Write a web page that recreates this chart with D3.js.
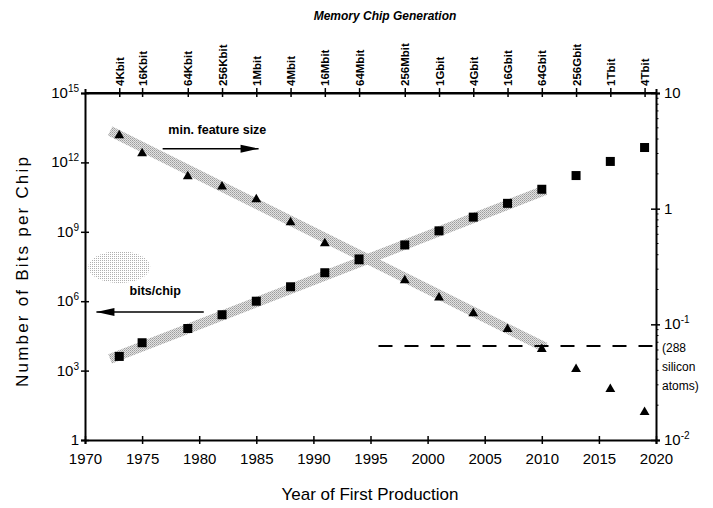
<!DOCTYPE html>
<html>
<head>
<meta charset="utf-8">
<script src="https://cdn.jsdelivr.net/npm/d3@7"></script>
<style>
  html, body { margin: 0; padding: 0; background: #fff; }
  svg { display: block; }
  text { font-family: "Liberation Sans", Arial, sans-serif; fill: #000; }
</style>
</head>
<body>
<div id="chart"></div>
<script>
// ---- data ----
const years = [1973, 1975, 1979, 1982, 1985, 1988, 1991, 1994, 1998, 2001, 2004, 2007, 2010, 2013, 2016, 2019];
const generations = ["4Kbit", "16Kbit", "64Kbit", "256Kbit", "1Mbit", "4Mbit", "16Mbit", "64Mbit",
                     "256Mbit", "1Gbit", "4Gbit", "16Gbit", "64Gbit", "256Gbit", "1Tbit", "4Tbit"];
const bitsPerChip = [4.1e3, 1.6e4, 6.6e4, 2.6e5, 1.0e6, 4.2e6, 1.7e7, 6.7e7,
                     2.7e8, 1.1e9, 4.3e9, 1.7e10, 6.9e10, 2.7e11, 1.1e12, 4.4e12];
const featureSize = [4.3, 3.0, 1.9, 1.55, 1.2, 0.76, 0.5, 0.35,
                     0.24, 0.17, 0.124, 0.091, 0.061, 0.041, 0.0275, 0.0174];
const trendYears = [1972.2, 2010.3];
const bitsTrend = [3.2e3, 6.3e10];
const featureTrend = [4.7, 0.063];
const atomLimit = 0.065;
const atomLimitYears = [1995.7, 2020];
const xTicks = [1970, 1975, 1980, 1985, 1990, 1995, 2000, 2005, 2010, 2015, 2020];
const leftTicks = [1, 1e3, 1e6, 1e9, 1e12, 1e15];
const leftTickLabels = [["1", ""], ["10", "3"], ["10", "6"], ["10", "9"], ["10", "12"], ["10", "15"]];
const rightTicks = [0.01, 0.1, 1, 10];
const rightTickLabels = [["10", "-2"], ["10", "-1"], ["1", ""], ["10", ""]];
const limitNote = ["(288", "silicon", "atoms)"];

// ---- layout ----
const W = 713, H = 508;
const svg = d3.select("#chart").append("svg").attr("width", W).attr("height", H);
const x = d3.scaleLinear().domain([1970, 2020]).range([85, 656]);
const yL = d3.scaleLog().domain([1, 1e15]).range([440, 93]);
const yR = d3.scaleLog().domain([0.01, 10]).range([440, 93]);

const defs = svg.append("defs");
const pat = defs.append("pattern").attr("id", "band").attr("patternUnits", "userSpaceOnUse")
  .attr("width", 2).attr("height", 2);
pat.append("rect").attr("width", 2).attr("height", 2).attr("fill", "#e2e2e2");
pat.append("rect").attr("width", 1).attr("height", 1).attr("fill", "#9c9c9c");
pat.append("rect").attr("x", 1).attr("y", 1).attr("width", 1).attr("height", 1).attr("fill", "#b4b4b4");
const dots = defs.append("pattern").attr("id", "dots").attr("patternUnits", "userSpaceOnUse")
  .attr("width", 2).attr("height", 2);
dots.append("rect").attr("width", 1).attr("height", 1).attr("fill", "#b0b0b0");

// blob (scan artifact)
svg.append("ellipse").attr("cx", x(1973)).attr("cy", yL(3e7)).attr("rx", 31).attr("ry", 16)
  .attr("fill", "url(#dots)");

// trend bands
const lineL = d3.line().x(d => x(d[0])).y(d => yL(d[1]));
const lineR = d3.line().x(d => x(d[0])).y(d => yR(d[1]));
svg.append("path").attr("d", lineR(trendYears.map((t, i) => [t, featureTrend[i]])))
  .attr("stroke", "url(#band)").attr("stroke-width", 10).attr("fill", "none");
svg.append("path").attr("d", lineL(trendYears.map((t, i) => [t, bitsTrend[i]])))
  .attr("stroke", "url(#band)").attr("stroke-width", 10).attr("fill", "none");

// atom limit dashed line
svg.append("line")
  .attr("x1", x(atomLimitYears[0])).attr("x2", x(atomLimitYears[1]))
  .attr("y1", yR(atomLimit)).attr("y2", yR(atomLimit))
  .attr("stroke", "#000").attr("stroke-width", 2).attr("stroke-dasharray", "14,12");

// ---- axes ----
const axG = svg.append("g");
function styleAxis(g) {
  g.select(".domain").attr("stroke", "#000").attr("stroke-width", 2);
  g.selectAll(".tick line").attr("stroke", "#000").attr("stroke-width", 1.5);
}
// bottom
const gB = axG.append("g").attr("transform", "translate(0,440)")
  .call(d3.axisBottom(x).tickValues(xTicks).tickFormat(d3.format("d")).tickSizeOuter(0).tickSize(4));
styleAxis(gB);
gB.selectAll(".tick line").attr("y1", -4).attr("y2", 4);
gB.selectAll(".tick text").attr("font-size", 15).attr("dy", "0.95em").attr("y", 10);

// top
const gT = axG.append("g").attr("transform", "translate(0,93)")
  .call(d3.axisTop(x).tickValues(years).tickFormat((d, i) => generations[i]).tickSizeOuter(0).tickSize(4));
styleAxis(gT);
gT.selectAll(".tick line").attr("y1", -5).attr("y2", 4);
gT.selectAll(".tick text")
  .attr("font-size", 11.5).attr("font-weight", "bold")
  .attr("text-anchor", "start")
  .attr("transform", "rotate(-90)")
  .attr("x", 7).attr("y", 0).attr("dy", "0.35em");

// left
const gLa = axG.append("g").attr("transform", "translate(85,0)")
  .call(d3.axisLeft(yL).tickValues(leftTicks).tickFormat("").tickSizeOuter(0).tickSize(4));
styleAxis(gLa);
gLa.selectAll(".tick line").attr("x1", -4).attr("x2", 4);
leftTicks.forEach((v, i) => {
  const t = svg.append("text").attr("x", 79).attr("y", yL(v) + 5)
    .attr("text-anchor", "end").attr("font-size", 15);
  t.append("tspan").text(leftTickLabels[i][0]);
  if (leftTickLabels[i][1]) t.append("tspan").attr("dy", -6).attr("font-size", 10).text(leftTickLabels[i][1]);
});

// right
const gRa = axG.append("g").attr("transform", "translate(656,0)")
  .call(d3.axisRight(yR).tickValues(rightTicks).tickFormat("").tickSizeOuter(0).tickSize(4));
styleAxis(gRa);
gRa.selectAll(".tick line").attr("x1", -5).attr("x2", 4);
const minor = [];
[0.01, 0.1, 1].forEach(b => { for (let k = 2; k <= 9; k++) minor.push(b * k); });
gRa.selectAll(".minor").data(minor).enter().append("line")
  .attr("x1", 0).attr("x2", 2.5).attr("y1", d => yR(d)).attr("y2", d => yR(d))
  .attr("stroke", "#000").attr("stroke-width", 1);
rightTicks.forEach((v, i) => {
  const t = svg.append("text").attr("x", 664).attr("y", yR(v) + 5)
    .attr("font-size", 15);
  t.append("tspan").text(rightTickLabels[i][0]);
  if (rightTickLabels[i][1]) t.append("tspan").attr("dy", -6).attr("font-size", 10).text(rightTickLabels[i][1]);
});
limitNote.forEach((s, i) => {
  svg.append("text").attr("x", 662).attr("y", yR(atomLimit) + 6 + i * 19)
    .attr("font-size", 12).text(s);
});
axG.append("line").attr("x1", 85).attr("x2", 656).attr("y1", 93).attr("y2", 93).attr("stroke", "#000").attr("stroke-width", 2);

// ---- markers ----
svg.append("g").selectAll("rect").data(years).enter().append("rect")
  .attr("x", (d) => x(d) - 4.5).attr("y", (d, i) => yL(bitsPerChip[i]) - 4.5)
  .attr("width", 9).attr("height", 9).attr("fill", "#000");
const tri = d3.symbol().type(d3.symbolTriangle).size(42);
svg.append("g").selectAll("path").data(years).enter().append("path")
  .attr("d", tri)
  .attr("transform", (d, i) => `translate(${x(d)},${yR(featureSize[i])})`)
  .attr("fill", "#000");

// ---- annotations ----
function arrow(x1, x2, y) {
  svg.append("line").attr("x1", x1).attr("x2", x2).attr("y1", y).attr("y2", y)
    .attr("stroke", "#000").attr("stroke-width", 1.5);
  const dir = Math.sign(x2 - x1);
  svg.append("path")
    .attr("d", `M${x2},${y} L${x2 - dir * 18},${y - 4} L${x2 - dir * 18},${y + 4} Z`)
    .attr("fill", "#000");
}
svg.append("text").attr("x", x(1977.3)).attr("y", yR(4.4)).attr("font-size", 12.5)
  .attr("font-weight", "bold").text("min. feature size");
arrow(x(1976.8), x(1985.2), yR(3.3));
svg.append("text").attr("x", x(1973.9)).attr("y", yL(1.8e6)).attr("font-size", 12.5)
  .attr("font-weight", "bold").text("bits/chip");
arrow(x(1980.4), x(1971.0), yL(3.4e5));

// ---- titles ----
svg.append("text").attr("x", 385).attr("y", 20).attr("text-anchor", "middle")
  .attr("font-size", 12).attr("font-weight", "bold").attr("font-style", "italic")
  .text("Memory Chip Generation");
svg.append("text").attr("x", 370).attr("y", 500).attr("text-anchor", "middle")
  .attr("font-size", 17).text("Year of First Production");
svg.append("text").attr("transform", "translate(28,272) rotate(-90)").attr("text-anchor", "middle")
  .attr("font-size", 17).attr("textLength", 230).attr("lengthAdjust", "spacing")
  .text("Number of Bits per Chip");
</script>
</body>
</html>
